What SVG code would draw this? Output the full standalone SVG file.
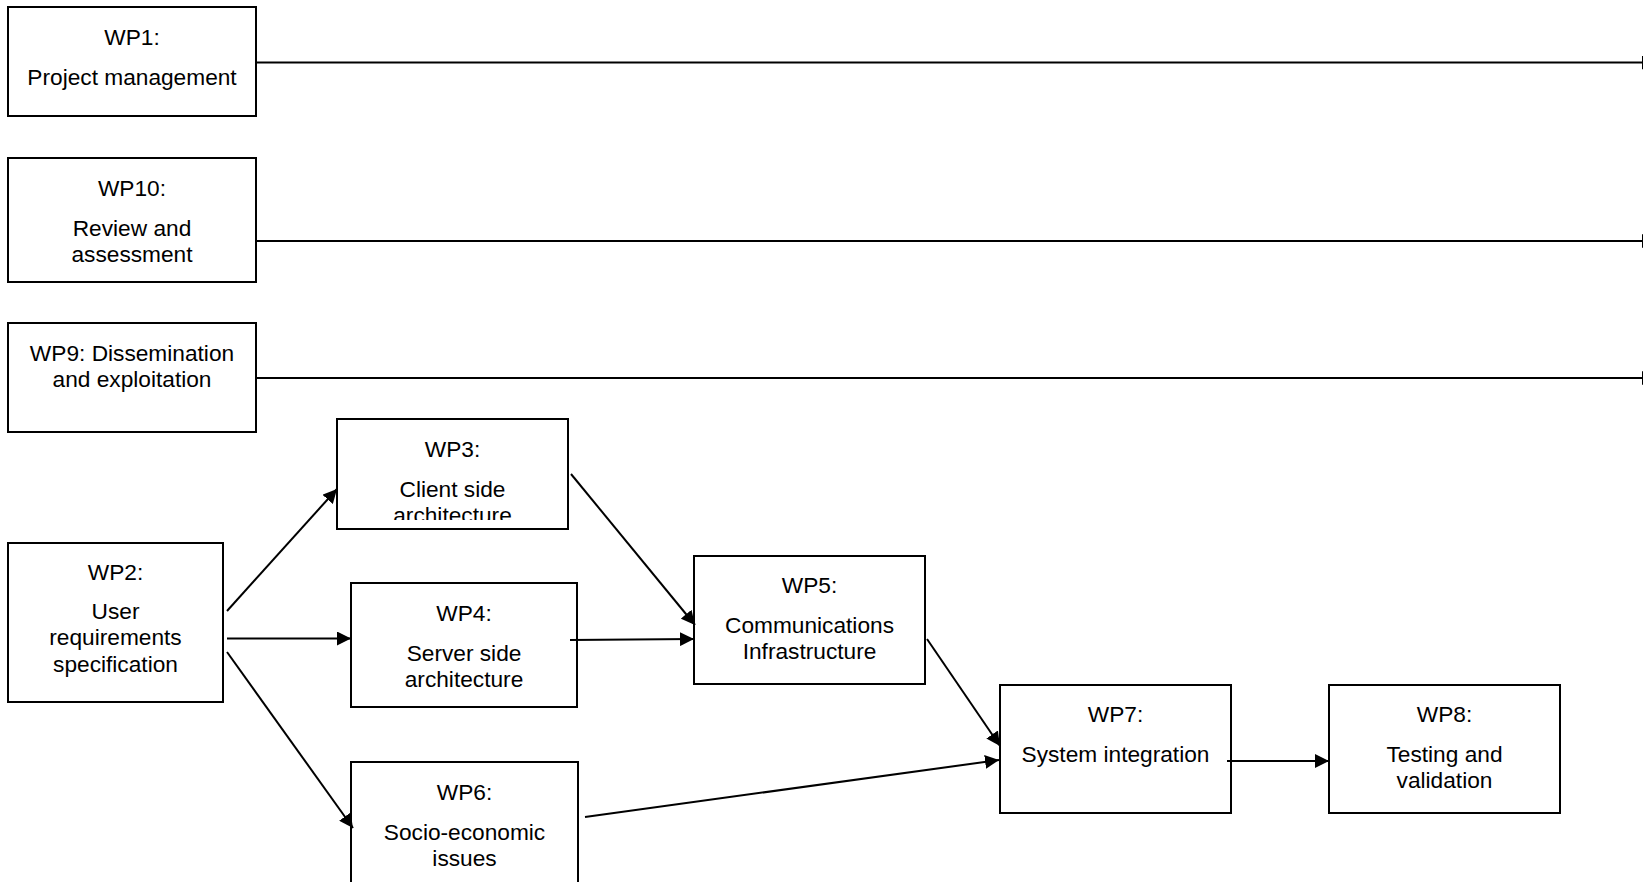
<svg xmlns="http://www.w3.org/2000/svg" width="1643" height="882" viewBox="0 0 1643 882">
<style>
.box{fill:#fff;stroke:#000;stroke-width:2}
.t{font-family:"Liberation Sans",Arial,sans-serif;font-size:22.7px;fill:#000;text-anchor:middle}
.c{stroke:#000;stroke-width:2;fill:none;marker-end:url(#ah)}
</style>
<defs>
<marker id="ah" markerUnits="userSpaceOnUse" markerWidth="14" markerHeight="14" refX="14" refY="7" orient="auto" viewBox="0 0 14 14">
<path d="M0,0 L14,7 L0,14 z" fill="#000"/>
</marker>
<clipPath id="clip3"><rect x="337" y="419" width="231" height="101"/></clipPath>
</defs>
<rect width="1643" height="882" fill="#fff"/>
<g id="wp1">
<rect class="box" x="8" y="7" width="248" height="109"/>
<text class="t" x="132" y="45">WP1:</text>
<text class="t" x="132" y="85">Project management</text>
</g>
<g id="wp10">
<rect class="box" x="8" y="158" width="248" height="124"/>
<text class="t" x="132" y="196">WP10:</text>
<text class="t" x="132" y="236">Review and</text>
<text class="t" x="132" y="262">assessment</text>
</g>
<g id="wp9">
<rect class="box" x="8" y="323" width="248" height="109"/>
<text class="t" x="132" y="361">WP9: Dissemination</text>
<text class="t" x="132" y="387">and exploitation</text>
</g>
<g id="wp2">
<rect class="box" x="8" y="543" width="215" height="159"/>
<text class="t" x="115.5" y="580">WP2:</text>
<text class="t" x="115.5" y="619">User</text>
<text class="t" x="115.5" y="645">requirements</text>
<text class="t" x="115.5" y="672">specification</text>
</g>
<g id="wp3">
<rect class="box" x="337" y="419" width="231" height="110"/>
<g clip-path="url(#clip3)">
<text class="t" x="452.5" y="457">WP3:</text>
<text class="t" x="452.5" y="497">Client side</text>
<text class="t" x="452.5" y="523">architecture</text>
</g>
</g>
<g id="wp4">
<rect class="box" x="351" y="583" width="226" height="124"/>
<text class="t" x="464" y="621">WP4:</text>
<text class="t" x="464" y="661">Server side</text>
<text class="t" x="464" y="687">architecture</text>
</g>
<g id="wp6">
<rect class="box" x="351" y="762" width="227" height="140"/>
<text class="t" x="464.5" y="800">WP6:</text>
<text class="t" x="464.5" y="840">Socio-economic</text>
<text class="t" x="464.5" y="866">issues</text>
</g>
<g id="wp5">
<rect class="box" x="694" y="556" width="231" height="128"/>
<text class="t" x="809.5" y="593">WP5:</text>
<text class="t" x="809.5" y="633">Communications</text>
<text class="t" x="809.5" y="659">Infrastructure</text>
</g>
<g id="wp7">
<rect class="box" x="1000" y="685" width="231" height="128"/>
<text class="t" x="1115.5" y="722">WP7:</text>
<text class="t" x="1115.5" y="762">System integration</text>
</g>
<g id="wp8">
<rect class="box" x="1329" y="685" width="231" height="128"/>
<text class="t" x="1444.5" y="722">WP8:</text>
<text class="t" x="1444.5" y="762">Testing and</text>
<text class="t" x="1444.5" y="788">validation</text>
</g>
<g id="connectors">
<line class="c" x1="256" y1="62.5" x2="1656" y2="62.5"/>
<line class="c" x1="256" y1="241" x2="1656" y2="241"/>
<line class="c" x1="256" y1="378" x2="1656" y2="378"/>
<line class="c" x1="227" y1="611" x2="337" y2="489"/>
<line class="c" x1="227" y1="638.5" x2="351" y2="638.5"/>
<line class="c" x1="227" y1="652" x2="353" y2="828"/>
<line class="c" x1="571" y1="474" x2="695" y2="625"/>
<line class="c" x1="570" y1="640" x2="694" y2="639"/>
<line class="c" x1="927" y1="639" x2="1000" y2="746"/>
<line class="c" x1="585" y1="817" x2="999" y2="760"/>
<line class="c" x1="1227" y1="761" x2="1329" y2="761"/>
</g>
</svg>
